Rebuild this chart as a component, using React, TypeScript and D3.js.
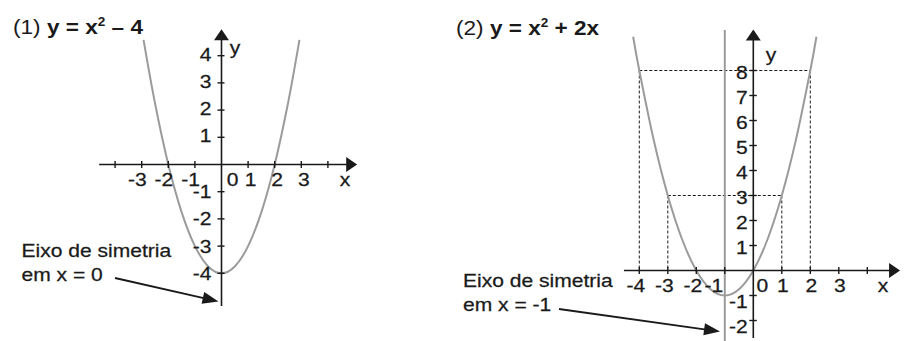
import React from 'react';
import * as d3 from 'd3';

// ---------- data ----------
const ticks1X = [-4, -3, -2, -1, 1, 2, 3, 4];
const labels1X = [-3, -2, -1, 0, 1, 2, 3];
const ticks1Y = [-4, -3, -2, -1, 1, 2, 3, 4];
const labels1Y = [4, 3, 2, 1, -1, -2, -3, -4];
const curve1: [number, number][] = [
  [-2.93, 4.58], [-2.5, 2.25], [-2, 0], [-1.5, -1.75], [-1, -3], [-0.5, -3.75], [0, -4],
  [0.5, -3.75], [1, -3], [1.5, -1.75], [2, 0], [2.5, 2.25], [2.93, 4.58],
];

const ticks2X = [-4, -3, -2, -1, 1, 2, 3, 4];
const labels2X = [-4, -3, -2, -1, 0, 1, 2, 3];
const ticks2Y = [-2, -1, 1, 2, 3, 4, 5, 6, 7, 8];
const labels2Y = [8, 7, 6, 5, 4, 3, 2, 1, -1, -2];
const curve2: [number, number][] = [
  [-4.215, 9.35], [-4, 8], [-3.5, 5.25], [-3, 3], [-2.5, 1.25], [-2, 0], [-1.5, -0.75], [-1, -1],
  [-0.5, -0.75], [0, 0], [0.5, 1.25], [1, 3], [1.5, 5.25], [2, 8], [2.215, 9.35],
];
// dashed guide segments: [xLeft, xRight, y]
const guides2: [number, number, number][] = [
  [-4, 2, 8],
  [-3, 1, 3],
];
const symmetry2 = -1;

const title1 = { lead: '(1) ', bold: 'y = x', sup: '2', tail: ' – 4' };
const title2 = { lead: '(2) ', bold: 'y = x', sup: '2', tail: ' + 2x' };
const note1 = ['Eixo de simetria', 'em x = 0'];
const note2 = ['Eixo de simetria', 'em x = -1'];

// ---------- layout ----------
const W = 914;
const H = 341;
const SX = 1.17;
const FS = 18;
const FONT = '"Liberation Sans", Arial, Helvetica, sans-serif';
const CURVE = '#9b9b9b';
const INK = '#1a1a1a';

const x1 = d3.scaleLinear().domain([-4, 4]).range([221.5 - 4 * 26.6, 221.5 + 4 * 26.6]);
const y1 = d3.scaleLinear().domain([-4, 4]).range([164.5 + 4 * 27.2, 164.5 - 4 * 27.2]);
const x2 = d3.scaleLinear().domain([-4, 4]).range([753.3 - 4 * 28.5, 753.3 + 4 * 28.5]);
const y2 = d3.scaleLinear().domain([-2, 8]).range([270.5 + 2 * 25, 270.5 - 8 * 25]);

const T = ({ x, y, anchor = 'start', children, weight = 'normal', size = FS }: any) => (
  <text
    transform={`translate(${x},${y}) scale(${SX},1)`}
    textAnchor={anchor}
    fontFamily={FONT}
    fontSize={size}
    fontWeight={weight}
    fill={INK}
    stroke={INK}
    strokeWidth={0.25}
  >
    {children}
  </text>
);

const ArrowHead = ({ x, y, angle, len = 11, half = 7.5 }: any) => {
  const ca = Math.cos(angle), sa = Math.sin(angle);
  const bx = x - ca * len, by = y - sa * len;
  const pts = [
    [x, y],
    [bx - sa * half, by + ca * half],
    [bx + sa * half, by - ca * half],
  ];
  return <polygon points={pts.map((p) => p.join(',')).join(' ')} fill={INK} />;
};

const Title = ({ x, y, t }: any) => (
  <text transform={`translate(${x},${y}) scale(1.13,1)`} fontFamily={FONT} fontSize={20} fill={INK}>
    <tspan>{t.lead}</tspan>
    <tspan fontWeight="bold">{t.bold}</tspan>
    <tspan fontWeight="bold" fontSize={12} dy={-8}>{t.sup}</tspan>
    <tspan fontWeight="bold" dy={8}>{t.tail}</tspan>
  </text>
);

const Note = ({ x, y, lines, from, to }: any) => {
  const ang = Math.atan2(to[1] - from[1], to[0] - from[0]);
  const len = 16;
  const end = [to[0] - Math.cos(ang) * (len - 2), to[1] - Math.sin(ang) * (len - 2)];
  return (
    <g>
      <T x={x} y={y}>{lines[0]}</T>
      <T x={x} y={y + 24}>{lines[1]}</T>
      <line x1={from[0]} y1={from[1]} x2={end[0]} y2={end[1]} stroke={INK} strokeWidth={1.8} />
      <ArrowHead x={to[0]} y={to[1]} angle={ang} len={len} half={6} />
    </g>
  );
};

const line = (xs: any, ys: any) =>
  d3
    .line<[number, number]>()
    .x((d) => xs(d[0]))
    .y((d) => ys(d[1]))
    .curve(d3.curveCardinal.tension(0));

export default function App() {
  // axis extents (data units)
  const ax1X = [-4.6, 5.1];
  const ax1Y = [-5.2, 4.97];
  const ax2X = [-4.54, 5.15];
  const ax2Y = [-2.7, 9.64];
  const sym2Y = [-2.9, 9.62];

  const ox1 = x1(0), oy1 = y1(0);
  const ox2 = x2(0), oy2 = y2(0);

  return (
    <svg width={W} height={H} style={{ position: 'absolute', left: 0, top: 0, background: '#fff' }}>
      <rect width={W} height={H} fill="#fff" />

      {/* ---------- chart 1 ---------- */}
      <Title x={13} y={34} t={title1} />

      <path d={line(x1, y1)(curve1) || ''} fill="none" stroke={CURVE} strokeWidth={2} />

      <line x1={x1(ax1X[0])} y1={oy1} x2={x1(ax1X[1]) - 9} y2={oy1} stroke={INK} strokeWidth={1.6} />
      <ArrowHead x={x1(ax1X[1])} y={oy1} angle={0} />
      <line x1={ox1} y1={y1(ax1Y[0])} x2={ox1} y2={y1(ax1Y[1]) + 9} stroke={INK} strokeWidth={1.6} />
      <ArrowHead x={ox1} y={y1(ax1Y[1])} angle={-Math.PI / 2} />

      {ticks1X.map((v) => (
        <line key={'t1x' + v} x1={x1(v)} x2={x1(v)} y1={oy1 - 3.5} y2={oy1 + 3.5} stroke={INK} strokeWidth={1.4} />
      ))}
      {ticks1Y.map((v) => (
        <line key={'t1y' + v} x1={ox1 - 4} x2={ox1 + 3} y1={y1(v)} y2={y1(v)} stroke={INK} strokeWidth={1.4} />
      ))}
      {labels1X.map((v) =>
        v < 0 ? (
          <T key={'l1x' + v} x={x1(v) + 5} y={186} anchor="end">{String(v)}</T>
        ) : v === 0 ? (
          <T key={'l1x' + v} x={ox1 + 11} y={186} anchor="middle">0</T>
        ) : (
          <T key={'l1x' + v} x={x1(v) + 2.5} y={186} anchor="middle">{String(v)}</T>
        )
      )}
      {labels1Y.map((v) => (
        <T key={'l1y' + v} x={ox1 - 10} y={y1(v) + (v < 0 ? 6.5 : 5)} anchor="end">{String(v)}</T>
      ))}
      <T x={345} y={186} anchor="middle">x</T>
      <T x={235} y={54} anchor="middle">y</T>

      <Note x={21.5} y={257} lines={note1} from={[115, 278]} to={[218.5, 301.5]} />

      {/* ---------- chart 2 ---------- */}
      <Title x={456} y={35} t={title2} />

      {guides2.map(([a, b, yv]) => (
        <g key={'g' + yv}>
          <line x1={x2(a)} x2={x2(b)} y1={y2(yv)} y2={y2(yv)} stroke={INK} strokeWidth={1} strokeDasharray="3,2" />
          <line x1={x2(a)} x2={x2(a)} y1={y2(yv)} y2={oy2} stroke={INK} strokeWidth={1} strokeDasharray="3,2" />
          <line x1={x2(b)} x2={x2(b)} y1={y2(yv)} y2={oy2} stroke={INK} strokeWidth={1} strokeDasharray="3,2" />
        </g>
      ))}

      <line x1={x2(symmetry2)} x2={x2(symmetry2)} y1={y2(sym2Y[0])} y2={y2(sym2Y[1])} stroke={CURVE} strokeWidth={2} />

      <path d={line(x2, y2)(curve2) || ''} fill="none" stroke={CURVE} strokeWidth={2} />

      <line x1={x2(ax2X[0])} y1={oy2} x2={x2(ax2X[1]) - 9} y2={oy2} stroke={INK} strokeWidth={1.6} />
      <ArrowHead x={x2(ax2X[1])} y={oy2} angle={0} />
      <line x1={ox2} y1={y2(ax2Y[0])} x2={ox2} y2={y2(ax2Y[1]) + 9} stroke={INK} strokeWidth={1.6} />
      <ArrowHead x={ox2} y={y2(ax2Y[1])} angle={-Math.PI / 2} />

      {ticks2X.map((v) => (
        <line key={'t2x' + v} x1={x2(v)} x2={x2(v)} y1={oy2 - 3.5} y2={oy2 + 3.5} stroke={INK} strokeWidth={1.4} />
      ))}
      {ticks2Y.map((v) => (
        <line key={'t2y' + v} x1={ox2 - 4} x2={ox2 + 3.5} y1={y2(v)} y2={y2(v)} stroke={INK} strokeWidth={1.4} />
      ))}
      {labels2X.map((v) =>
        v < 0 ? (
          <T key={'l2x' + v} x={x2(v) + (v === -1 ? -1.5 : 6)} y={291.5} anchor="end">{String(v)}</T>
        ) : v === 0 ? (
          <T key={'l2x' + v} x={ox2 + 9} y={291.5} anchor="middle">0</T>
        ) : (
          <T key={'l2x' + v} x={x2(v) + 1} y={291.5} anchor="middle">{String(v)}</T>
        )
      )}
      {labels2Y.map((v) => (
        <T key={'l2y' + v} x={ox2 - 5.5} y={y2(v) + (v < 0 ? 12 : 8.5)} anchor="end">{String(v)}</T>
      ))}
      <T x={883} y={291.5} anchor="middle">x</T>
      <T x={771} y={61} anchor="middle">y</T>

      <Note x={463} y={287} lines={note2} from={[559, 309]} to={[720, 331.5]} />
    </svg>
  );
}
